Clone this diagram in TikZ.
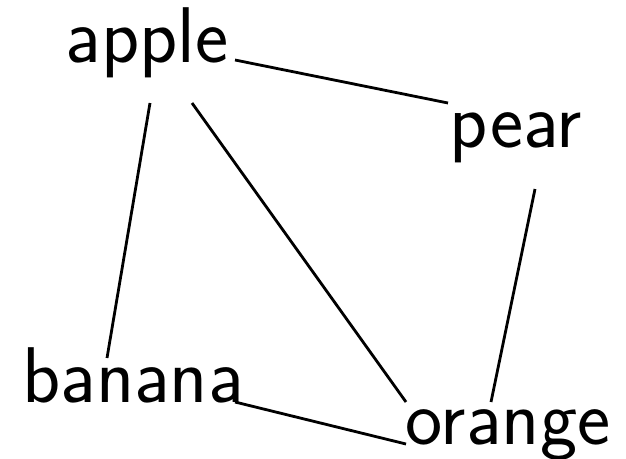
\documentclass[tikz,border=0pt]{standalone}
\usepackage{fontspec}
\begin{document}
\begin{tikzpicture}[x=1pt,y=-1pt,
  fruit/.style={font=\sffamily\fontsize{79}{86}\selectfont,inner sep=0pt,anchor=base},
  link/.style={line width=2.8pt}]
  \useasboundingbox (0,0) rectangle (626,458);
  % fruits
  \node[fruit] (apple)  at (147,62)  {apple};
  \node[fruit] (pear)   at (516,147) {pear};
  \node[fruit] (banana) at (133,402) {banana};
  \node[fruit] (orange) at (508,444) {orange};
  % links
  \draw[link] ([shift={(88,-2)}]apple.base) -- ([shift={(-68,-44)}]pear.base);
  \draw[link] ([shift={(3,41)}]apple.base) -- ([shift={(-26,-44)}]banana.base);
  \draw[link] ([shift={(45,41)}]apple.base) -- ([shift={(-102,-42)}]orange.base);
  \draw[link] ([shift={(19,42)}]pear.base) -- ([shift={(-17,-42)}]orange.base);
  \draw[link] ([shift={(102,0)}]banana.base) -- ([shift={(-102,0)}]orange.base);
\end{tikzpicture}
\end{document}
